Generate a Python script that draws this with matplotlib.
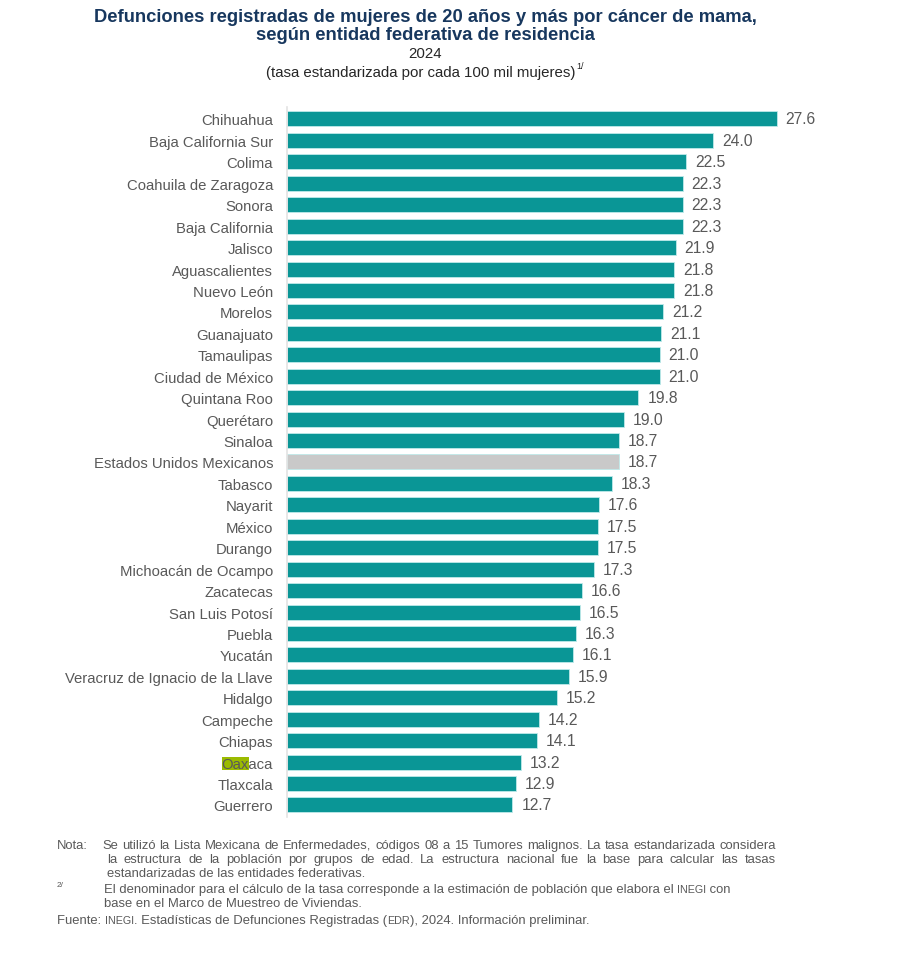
import matplotlib.pyplot as plt
from matplotlib.patches import Rectangle

plt.rcParams['font.family'] = ['Liberation Sans', 'DejaVu Sans']

entidades = [
    "Chihuahua", "Baja California Sur", "Colima", "Coahuila de Zaragoza",
    "Sonora", "Baja California", "Jalisco", "Aguascalientes", "Nuevo León",
    "Morelos", "Guanajuato", "Tamaulipas", "Ciudad de México", "Quintana Roo",
    "Querétaro", "Sinaloa", "Estados Unidos Mexicanos", "Tabasco", "Nayarit",
    "México", "Durango", "Michoacán de Ocampo", "Zacatecas", "San Luis Potosí",
    "Puebla", "Yucatán", "Veracruz de Ignacio de la Llave", "Hidalgo",
    "Campeche", "Chiapas", "Oaxaca", "Tlaxcala", "Guerrero",
]
tasas = [
    27.6, 24.0, 22.5, 22.3, 22.3, 22.3, 21.9, 21.8, 21.8, 21.2, 21.1, 21.0,
    21.0, 19.8, 19.0, 18.7, 18.7, 18.3, 17.6, 17.5, 17.5, 17.3, 16.6, 16.5,
    16.3, 16.1, 15.9, 15.2, 14.2, 14.1, 13.2, 12.9, 12.7,
]
nacional = "Estados Unidos Mexicanos"
resaltado = "Oaxaca"

TEAL = "#0A9696"
GRIS = "#C9C9C9"
TEXTO = "#595959"
TITULO = "#17375E"

fig = plt.figure(figsize=(9.07, 9.54), dpi=100)
ax = fig.add_axes([0.3164, 0.1426, 0.5871, 0.7442])
ax.set_zorder(1)
ax.patch.set_alpha(0)

colores = [GRIS if e == nacional else TEAL for e in entidades]
y = list(range(len(entidades)))
ax.barh(y, tasas, height=0.7, color=colores, edgecolor="#BFEAEA", linewidth=0.6)

for yi, v in zip(y, tasas):
    ax.text(v + 0.5, yi, f"{v:.1f}", va="center", ha="left", fontsize=11.3, color=TEXTO)

ax.set_xlim(0, 30)
ax.set_ylim(len(entidades) - 0.44, -0.56)
ax.set_yticks(y)
ax.set_yticklabels(entidades, fontsize=10.7, color=TEXTO)
ax.tick_params(axis="y", length=0, pad=10)
ax.set_xticks([])
for s in ["top", "right", "bottom"]:
    ax.spines[s].set_visible(False)
ax.spines["left"].set_color("#E3E3E3")
ax.spines["left"].set_linewidth(1.2)


def fy(px):
    return 1 - px / 954


# titulos
XC = 425 / 907
fig.text(XC, fy(18), "Defunciones registradas de mujeres de 20 años y más por cáncer de mama,",
         ha="center", va="center", fontsize=13.2, fontweight="bold", color=TITULO)
fig.text(XC, fy(35.5), "según entidad federativa de residencia",
         ha="center", va="center", fontsize=13.2, fontweight="bold", color=TITULO)
fig.text(XC, fy(53.5), "2024", ha="center", va="center", fontsize=10.8, color="#262626")
sub = fig.text(XC - 4 / 907, fy(72.5), "(tasa estandarizada por cada 100 mil mujeres)", ha="center", va="center",
               fontsize=10.8, color="#262626")

fig.canvas.draw()
r = fig.canvas.get_renderer()
W, H = fig.bbox.width, fig.bbox.height
sb = sub.get_window_extent(r)
fig.text((sb.x1 + 1) / W, fy(67), "1/", fontsize=6.5, color="#262626", va="center")

# resaltado verde en "Oax" de Oaxaca
idx = entidades.index(resaltado)
lbl = ax.get_yticklabels()[idx]
bb = lbl.get_window_extent(r)
tmp = fig.text(0, 0, "aca", fontsize=10.7)
w_aca = tmp.get_window_extent(r).width
tmp.remove()
fig.patches.append(Rectangle((bb.x0 / W, (bb.y0 + 1) / H), (bb.width - w_aca) / W, (bb.height - 1) / H,
                             transform=fig.transFigure, facecolor="#9BBB00", edgecolor="none", zorder=0))

NS = 9.4


def ancho(txt, size):
    t = fig.text(0, 0, txt, fontsize=size)
    w = t.get_window_extent(r).width
    t.remove()
    return w


def linea(x, yy, partes, size=NS):
    x = x * W
    for txt, small in partes:
        s = size * 0.82 if small else size
        fig.text(x / W, yy, txt, fontsize=s, color=TEXTO, va="baseline")
        x += ancho(txt, s)


def justificada(x0, x1, yy, txt, size=NS):
    palabras = txt.split(" ")
    anchos = [ancho(p, size) for p in palabras]
    gap = (x1 - x0 - sum(anchos)) / (len(palabras) - 1)
    x = x0
    for p, w in zip(palabras, anchos):
        fig.text(x / W, yy, p, fontsize=size, color=TEXTO, va="baseline")
        x += w + gap


linea(57 / 907, fy(849), [("Nota:", False)])
justificada(102, 776, fy(849), "Se utilizó la Lista Mexicana de Enfermedades, códigos 08 a 15 Tumores malignos. "
                               "La tasa estandarizada considera")
justificada(107, 776, fy(863), "la estructura de la población por grupos de edad. La estructura nacional fue la "
                               "base para calcular las tasas")
linea(107 / 907, fy(877), [("estandarizadas de las entidades federativas.", False)])
fig.text(57 / 907, fy(887), "2/", fontsize=6, color=TEXTO, va="baseline")
linea(104 / 907, fy(893), [("El denominador para el cálculo de la tasa corresponde a la estimación de población "
                            "que elabora el ", False), ("INEGI", True), (" con", False)])
linea(104 / 907, fy(907), [("base en el Marco de Muestreo de Viviendas.", False)])
linea(57 / 907, fy(924), [("Fuente: ", False), ("INEGI", True),
                          (". Estadísticas de Defunciones Registradas (", False), ("EDR", True),
                          ("), 2024. Información preliminar.", False)])

fig.savefig("out.png", dpi=100)
